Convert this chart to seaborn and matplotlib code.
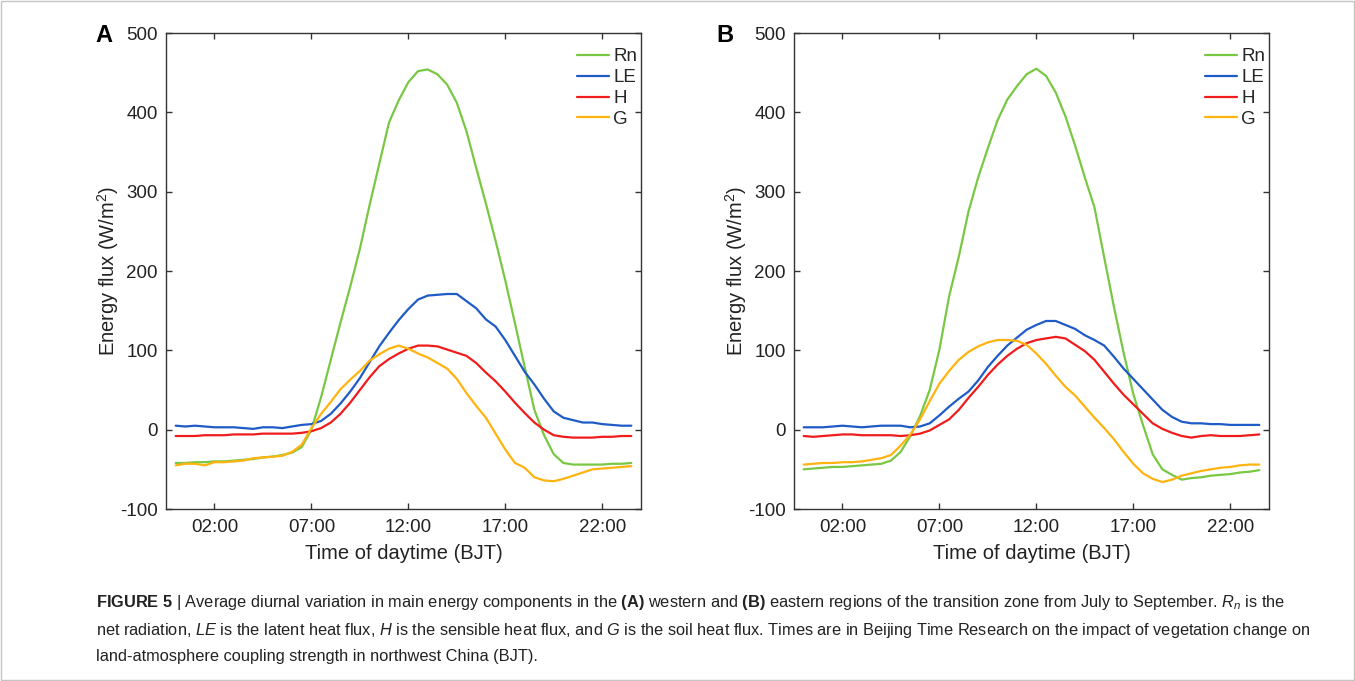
import numpy as np
import pandas as pd
import matplotlib
matplotlib.use("Agg")
import matplotlib.pyplot as plt
from matplotlib.patches import Rectangle
import seaborn as sns

# ---------------- data (W/m2), half-hourly 00:00 .. 23:30 ----------------
hours = np.arange(0, 24, 0.5)
components = ["Rn", "LE", "H", "G"]

rn_west = [-42, -42, -41, -41, -40, -40, -39, -38, -37, -35, -34, -32, -29, -22, 0, 41,
           88, 135, 180, 228, 283, 335, 387, 415, 438, 452, 454, 448, 435, 412, 376, 330,
           285, 238, 188, 134, 79, 25, -7, -31, -42, -44, -44, -44, -44, -43, -43, -42]
le_west = [5, 4, 5, 4, 3, 3, 3, 2, 1, 3, 3, 2, 4, 6, 7, 11,
           20, 33, 48, 65, 85, 105, 122, 138, 152, 164, 169, 170, 171, 171, 162, 153,
           139, 130, 113, 93, 73, 57, 39, 23, 15, 12, 9, 9, 7, 6, 5, 5]
h_west = [-8, -8, -8, -7, -7, -7, -6, -6, -6, -5, -5, -5, -5, -4, -2, 2,
          9, 20, 34, 50, 66, 80, 89, 96, 102, 106, 106, 105, 101, 97, 93, 84,
          72, 61, 48, 34, 21, 9, 0, -7, -9, -10, -10, -10, -9, -9, -8, -8]
g_west = [-45, -43, -43, -45, -41, -41, -40, -39, -36, -35, -34, -33, -28, -19, 2, 20,
          35, 51, 63, 74, 87, 95, 102, 106, 102, 96, 91, 84, 77, 64, 46, 30,
          15, -5, -25, -42, -48, -60, -64, -65, -62, -58, -54, -50, -49, -48, -47, -46]

rn_east = [-50, -49, -48, -47, -47, -46, -45, -44, -43, -39, -28, -8, 17, 50, 101, 168,
           218, 275, 318, 355, 390, 416, 433, 448, 455, 446, 425, 395, 358, 318, 280, 217,
           155, 97, 45, 6, -31, -50, -57, -63, -61, -60, -58, -57, -56, -54, -53, -51]
le_east = [3, 3, 3, 4, 5, 4, 3, 4, 5, 5, 5, 3, 4, 8, 18, 29,
           39, 48, 62, 79, 93, 106, 116, 126, 132, 137, 137, 132, 127, 119, 113, 106,
           92, 77, 64, 51, 38, 25, 16, 10, 8, 8, 7, 7, 6, 6, 6, 6]
h_east = [-8, -9, -8, -7, -6, -6, -7, -7, -7, -7, -8, -7, -5, -1, 6, 13,
          25, 40, 54, 69, 82, 93, 102, 109, 113, 115, 117, 115, 107, 99, 88, 73,
          58, 44, 32, 20, 8, 1, -4, -8, -10, -8, -7, -8, -8, -8, -7, -6]
g_east = [-44, -43, -42, -42, -41, -41, -40, -38, -36, -32, -20, -6, 13, 36, 58, 74,
          88, 98, 105, 110, 113, 113, 112, 107, 96, 83, 68, 54, 43, 29, 15, 2,
          -12, -28, -43, -55, -62, -66, -63, -58, -55, -52, -50, -48, -47, -45, -44, -44]

xticks = [2, 7, 12, 17, 22]
xtick_labels = ["02:00", "07:00", "12:00", "17:00", "22:00"]
yticks = [-100, 0, 100, 200, 300, 400, 500]
panel_letters = ["A", "B"]

palette = {"Rn": "#79c843", "LE": "#1f5bc6", "H": "#f01c1c", "G": "#ffb30f"}


def long_frame(series):
    rows = []
    for comp, vals in zip(components, series):
        for t, v in zip(hours, vals):
            rows.append({"time": t, "flux": v, "component": comp})
    return pd.DataFrame(rows)


df_west = long_frame([rn_west, le_west, h_west, g_west])
df_east = long_frame([rn_east, le_east, h_east, g_east])

# ---------------- style ----------------
sns.set_style("ticks")
plt.rcParams["font.family"] = ["Liberation Sans", "DejaVu Sans"]
plt.rcParams["axes.unicode_minus"] = False
plt.rcParams["mathtext.fontset"] = "custom"
plt.rcParams["mathtext.rm"] = "Liberation Sans"
plt.rcParams["mathtext.it"] = "Liberation Sans:italic"
plt.rcParams["mathtext.bf"] = "Liberation Sans:bold"

W, H = 1355, 681
fig = plt.figure(figsize=(W / 100, H / 100), dpi=100)
fig.patch.set_facecolor("white")

axes_px = [(166, 33, 641, 509), (794, 33, 1269, 509)]
letter_px = [(104, 35), (725, 35)]
text_col = "#222222"

for (l, t, r, b), (lx, ly), df, letter in zip(axes_px, letter_px, [df_west, df_east], panel_letters):
    ax = fig.add_axes([l / W, (H - b) / H, (r - l) / W, (b - t) / H])
    sns.lineplot(data=df, x="time", y="flux", hue="component", hue_order=components,
                 palette=palette, estimator=None, linewidth=1.6, ax=ax)
    ax.set_xlim(-0.5, 24)
    ax.set_ylim(-100, 500)
    ax.set_xticks(xticks)
    ax.set_xticklabels(xtick_labels)
    ax.set_yticks(yticks)
    for s in ax.spines.values():
        s.set_visible(True)
        s.set_color("#333333")
        s.set_linewidth(1.0)
    ax.tick_params(direction="in", length=4.5, width=1.0, color="#333333",
                   top=True, right=True, labelsize=13.5, labelcolor=text_col, pad=6)
    ax.tick_params(axis="x", pad=7.5)
    ax.set_xlabel("Time of daytime (BJT)", fontsize=14.5, color=text_col)
    ax.set_ylabel("Energy flux (W/m$^2$)", fontsize=14.5, color=text_col)
    ax.xaxis.set_label_coords(0.5, -0.074)
    ax.yaxis.set_label_coords(-0.094, 0.5)
    handles, labels = ax.get_legend_handles_labels()
    ax.legend(handles, labels, loc="upper right", bbox_to_anchor=(0.992, 0.968),
              frameon=False, fontsize=13.5, handlelength=1.75, handletextpad=0.2,
              labelspacing=0.2, borderpad=0, borderaxespad=0)
    fig.text(lx / W, 1 - ly / H, letter, fontsize=17, fontweight="bold",
             color="black", ha="center", va="center")

# ---------------- caption ----------------
cap1 = (r"$\mathbf{FIGURE\ 5}$ | Average diurnal variation in main energy components in the "
        r"$\mathbf{(A)}$ western and $\mathbf{(B)}$ eastern regions of the transition zone from "
        r"July to September. $R_n$ is the")
cap2 = (r"net radiation, $LE$ is the latent heat flux, $H$ is the sensible heat flux, and $G$ is "
        r"the soil heat flux. Times are in Beijing Time Research on the impact of vegetation change on")
cap3 = "land-atmosphere coupling strength in northwest China (BJT)."
for txt, yc in zip([cap1, cap2, cap3], [603, 630, 657]):
    fig.text(96 / W, 1 - yc / H, txt, fontsize=11.8, color=text_col, ha="left", va="center")

fig.patches.append(Rectangle((0.0005, 0.001), 0.999, 0.998, transform=fig.transFigure,
                             fill=False, edgecolor="#c4c4c4", linewidth=1.0))

fig.savefig("out.png", dpi=100, facecolor="white")
